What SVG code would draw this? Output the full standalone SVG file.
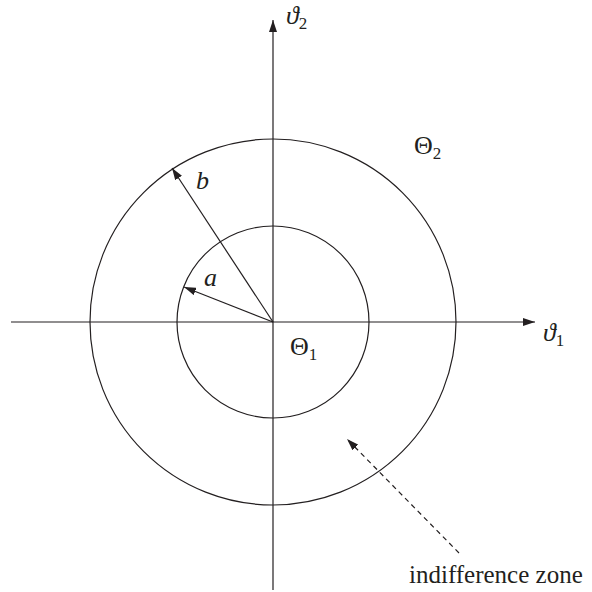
<svg xmlns="http://www.w3.org/2000/svg" width="592" height="592" viewBox="0 0 592 592">
<style>
.ln{stroke:#231f20;stroke-width:1.2;fill:none}
text{font-family:'Liberation Serif','Times New Roman',serif;fill:#231f20;font-size:26px}
.i{font-style:italic}
.s{font-size:17px;font-style:normal}
</style>
<defs>
<marker id="ah" viewBox="0 0 12 8" refX="12" refY="4" markerWidth="12" markerHeight="8" markerUnits="userSpaceOnUse" orient="auto">
<path d="M0,0 L12,4 L0,8 Z" fill="#231f20"/>
</marker>
</defs>
<rect width="592" height="592" fill="#fff"/>
<g id="outer-circle"><circle class="ln" cx="273" cy="322" r="183"/></g>
<g id="inner-circle"><circle class="ln" cx="273" cy="322" r="96"/></g>
<g id="connectors">
<line class="ln" x1="11" y1="322" x2="535" y2="322" marker-end="url(#ah)"/>
<line class="ln" x1="273" y1="590" x2="273" y2="20" marker-end="url(#ah)"/>
<line class="ln" x1="273" y1="322" x2="172" y2="168" marker-end="url(#ah)"/>
<line class="ln" x1="273" y1="322" x2="184" y2="287" marker-end="url(#ah)"/>
<line class="ln" x1="459" y1="553" x2="347" y2="439" stroke-dasharray="5,4" marker-end="url(#ah)"/>
</g>
<g id="labels">
<text class="i" x="286" y="24">ϑ<tspan class="s" dy="5">2</tspan></text>
<text class="i" x="543" y="341">ϑ<tspan class="s" dy="5">1</tspan></text>
<text class="i" x="196" y="189">b</text>
<text class="i" x="204" y="286">a</text>
<text x="414" y="154">Θ<tspan class="s" dy="5">2</tspan></text>
<text x="290" y="355">Θ<tspan class="s" dy="5">1</tspan></text>
<text x="409" y="583" style="font-size:25px">indifference zone</text>
</g>
</svg>
